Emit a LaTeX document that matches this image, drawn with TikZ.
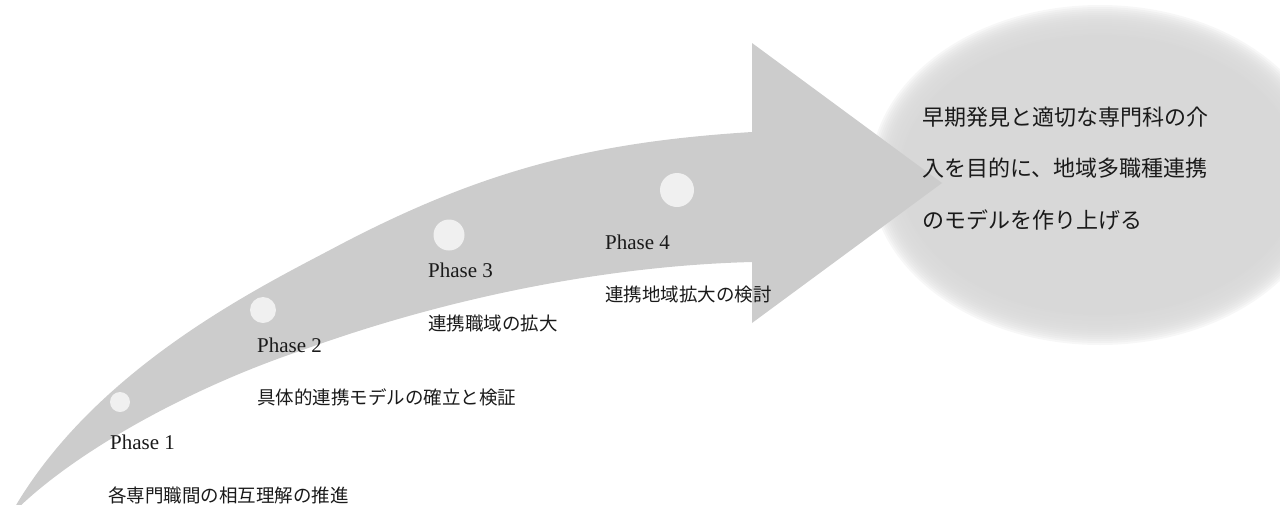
\documentclass[tikz,border=0pt]{standalone}
\usepackage{fontspec}
\setmainfont{Liberation Serif}
\newfontfamily\jp{Noto Sans CJK JP}
\definecolor{arrowgray}{HTML}{CCCCCC}
\definecolor{ellgray}{HTML}{D8D8D8}
\definecolor{dotgray}{HTML}{F0F0F0}
\definecolor{txt}{HTML}{1A1A1A}
\tikzset{
  phaselbl/.style={anchor=west, inner sep=0pt, text=txt, font=\fontsize{21}{24}\selectfont},
  desclbl/.style={anchor=west, inner sep=0pt, text=txt, font=\jp\fontsize{18.5}{22}\selectfont},
  goallbl/.style={anchor=west, inner sep=0pt, text=txt, font=\jp\fontsize{22}{26}\selectfont},
  dot/.style={circle, fill=dotgray, inner sep=0pt, draw=none}
}
\begin{document}
\begin{tikzpicture}[x=1pt, y=-1pt]
\useasboundingbox (0,0) rectangle (1280,504);
\clip (0,0) rectangle (1280,504);
% soft-edged ellipse
\foreach \i in {0,...,15}{
  \fill[ellgray, fill opacity=0.2] (1100,175) ellipse ({230-2*\i} and {170-2*\i});
}
\fill[ellgray] (1100,175) ellipse (200 and 140);
% curved arrow
\fill[arrowgray]
  (12,512) .. controls (92,372) and (250,292) .. (330,250)
           .. controls (480,170) and (592,142) .. (752,132)
  -- (752,43) -- (942,183) -- (752,323) -- (752,262)
  .. controls (600,266) and (440,300) .. (300,351)
  .. controls (190,388) and (74,452) .. (14,512)
  -- cycle;
% dots
\node[dot, minimum size=20pt] (d1) at (120,402) {};
\node[dot, minimum size=26pt] (d2) at (263,310) {};
\node[dot, minimum size=31pt] (d3) at (449,235) {};
\node[dot, minimum size=34pt] (d4) at (677,190) {};
% labels
\node[phaselbl] (p1) at (110,442) {Phase 1};
\node[desclbl] (t1) at (108,495) {各専門職間の相互理解の推進};
\node[phaselbl] (p2) at (257,345) {Phase 2};
\node[desclbl] (t2) at (257,397) {具体的連携モデルの確立と検証};
\node[phaselbl] (p3) at (428,270) {Phase 3};
\node[desclbl] (t3) at (428,323) {連携職域の拡大};
\node[phaselbl] (p4) at (605,242) {Phase 4};
\node[desclbl] (t4) at (605,295) {連携地域拡大の検討};
% goal text
\node[goallbl] (g1) at (922,117) {早期発見と適切な専門科の介};
\node[goallbl] (g2) at (922,168) {入を目的に、地域多職種連携};
\node[goallbl] (g3) at (922,220) {のモデルを作り上げる};
\end{tikzpicture}
\end{document}
